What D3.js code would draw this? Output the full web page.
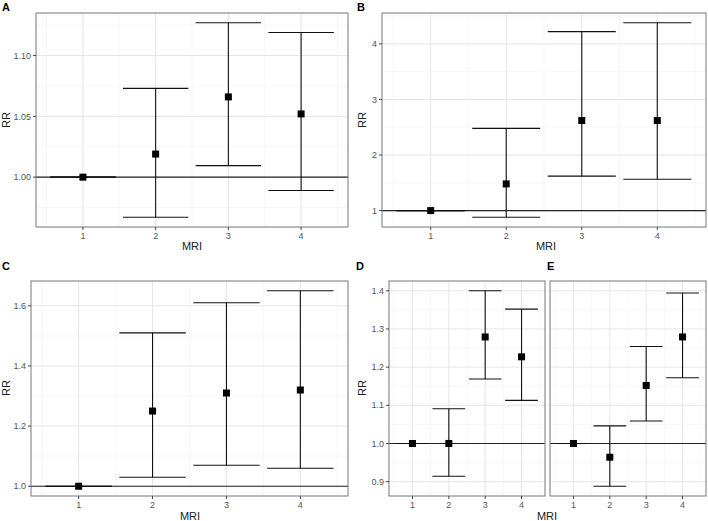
<!DOCTYPE html>
<meta charset="utf-8">
<head>
    <title>RR by MRI</title>
    <style>
        body { margin: 0; background: #fff; }
        text { font-family: "Liberation Sans", Arial, sans-serif; }
    </style>
</head>

<script src="https://d3js.org/d3.v7.min.js"></script>

<div id="dataVis"></div>

<script>

    // data
    var mri = [1, 2, 3, 4];

    var rrA = [1.000, 1.019, 1.066, 1.052];
    var loA = [1.000, 0.967, 1.0095, 0.989];
    var hiA = [1.000, 1.073, 1.127, 1.119];
    var ticksA = [1.00, 1.05, 1.10];

    var rrB = [1.00, 1.48, 2.62, 2.62];
    var loB = [1.00, 0.88, 1.62, 1.565];
    var hiB = [1.00, 2.48, 4.22, 4.38];
    var ticksB = [1, 2, 3, 4];

    var rrC = [1.00, 1.25, 1.31, 1.32];
    var loC = [1.00, 1.03, 1.07, 1.06];
    var hiC = [1.00, 1.51, 1.61, 1.65];
    var ticksC = [1.0, 1.2, 1.4, 1.6];

    var rrD = [1.000, 1.000, 1.279, 1.227];
    var loD = [1.000, 0.914, 1.169, 1.113];
    var hiD = [1.000, 1.091, 1.400, 1.352];

    var rrE = [1.000, 0.964, 1.152, 1.279];
    var loE = [1.000, 0.888, 1.059, 1.172];
    var hiE = [1.000, 1.046, 1.254, 1.394];
    var ticksDE = [0.9, 1.0, 1.1, 1.2, 1.3, 1.4];

    var barWidth = 0.9;

    var svg = d3.select("#dataVis")
        .append("svg")
        .attr("width", 708)
        .attr("height", 521);

    // ggplot-like 5% expansion
    function expand(lo, hi) {
        var pad = (hi - lo) * 0.05;
        return [lo - pad, hi + pad];
    }

    var xDomain = expand(d3.min(mri) - barWidth / 2, d3.max(mri) + barWidth / 2);

    function yDom(los, his) {
        var all = [].concat.apply([], los.concat(his));
        return expand(d3.min(all), d3.max(all));
    }

    function drawPanel(p) {
        var g = svg.append("g");
        var x = d3.scaleLinear().domain(xDomain).range([p.left, p.right]);
        var y = d3.scaleLinear().domain(p.yDomain).range([p.bottom, p.top]);

        var step = p.ticks[1] - p.ticks[0];
        var minorY = [];
        for (var i = -1; i < p.ticks.length; i++) {
            var v = p.ticks[0] + step * (i + 0.5);
            if (v > p.yDomain[0] && v < p.yDomain[1]) minorY.push(v);
        }
        var minorX = [];
        for (var k = 0; k <= mri.length; k++) {
            var vx = mri[0] - 0.5 + k;
            if (vx > xDomain[0] && vx < xDomain[1]) minorX.push(vx);
        }

        // grid
        g.selectAll(".minY").data(minorY).enter().append("line")
            .attr("x1", p.left).attr("x2", p.right)
            .attr("y1", function (d) { return y(d); }).attr("y2", function (d) { return y(d); })
            .attr("stroke", "#f1f1f1").attr("stroke-width", 0.6);
        g.selectAll(".minX").data(minorX).enter().append("line")
            .attr("y1", p.top).attr("y2", p.bottom)
            .attr("x1", function (d) { return x(d); }).attr("x2", function (d) { return x(d); })
            .attr("stroke", "#f1f1f1").attr("stroke-width", 0.6);
        g.selectAll(".majY").data(p.ticks).enter().append("line")
            .attr("x1", p.left).attr("x2", p.right)
            .attr("y1", function (d) { return y(d); }).attr("y2", function (d) { return y(d); })
            .attr("stroke", "#e6e6e6").attr("stroke-width", 1);
        g.selectAll(".majX").data(mri).enter().append("line")
            .attr("y1", p.top).attr("y2", p.bottom)
            .attr("x1", function (d) { return x(d); }).attr("x2", function (d) { return x(d); })
            .attr("stroke", "#e6e6e6").attr("stroke-width", 1);

        // reference line at RR = 1
        g.append("line")
            .attr("x1", p.left).attr("x2", p.right)
            .attr("y1", y(1)).attr("y2", y(1))
            .attr("stroke", "#222").attr("stroke-width", 1.1);

        var rows = mri.map(function (m, i) { return { m: m, rr: p.rr[i], lo: p.lo[i], hi: p.hi[i] }; });

        // error bars
        var eb = g.selectAll(".eb").data(rows).enter().append("g").attr("stroke", "#111").attr("stroke-width", 1.1);
        eb.append("line")
            .attr("x1", function (d) { return x(d.m); }).attr("x2", function (d) { return x(d.m); })
            .attr("y1", function (d) { return y(d.lo); }).attr("y2", function (d) { return y(d.hi); });
        eb.append("line")
            .attr("x1", function (d) { return x(d.m - barWidth / 2); }).attr("x2", function (d) { return x(d.m + barWidth / 2); })
            .attr("y1", function (d) { return y(d.hi); }).attr("y2", function (d) { return y(d.hi); });
        eb.append("line")
            .attr("x1", function (d) { return x(d.m - barWidth / 2); }).attr("x2", function (d) { return x(d.m + barWidth / 2); })
            .attr("y1", function (d) { return y(d.lo); }).attr("y2", function (d) { return y(d.lo); });

        // point estimates
        var s = 7;
        g.selectAll(".pt").data(rows).enter().append("rect")
            .attr("x", function (d) { return x(d.m) - s / 2; })
            .attr("y", function (d) { return y(d.rr) - s / 2; })
            .attr("width", s).attr("height", s)
            .attr("fill", "#000");

        // border
        g.append("rect")
            .attr("x", p.left).attr("y", p.top)
            .attr("width", p.right - p.left).attr("height", p.bottom - p.top)
            .attr("fill", "none").attr("stroke", "#777").attr("stroke-width", 1);

        // y axis
        if (p.yAxis) {
            g.selectAll(".yt").data(p.ticks).enter().append("line")
                .attr("x1", p.left - 3).attr("x2", p.left)
                .attr("y1", function (d) { return y(d); }).attr("y2", function (d) { return y(d); })
                .attr("stroke", "#444");
            g.selectAll(".yl").data(p.ticks).enter().append("text")
                .attr("x", p.left - 5)
                .attr("y", function (d) { return y(d); })
                .attr("dy", "0.35em")
                .attr("text-anchor", "end")
                .attr("fill", "#555")
                .style("font-size", "9px")
                .text(function (d) { return d3.format(p.fmt)(d); });
        }
        // x axis
        g.selectAll(".xt").data(mri).enter().append("line")
            .attr("y1", p.bottom).attr("y2", p.bottom + 3)
            .attr("x1", function (d) { return x(d); }).attr("x2", function (d) { return x(d); })
            .attr("stroke", "#444");
        g.selectAll(".xl").data(mri).enter().append("text")
            .attr("y", p.bottom + 12)
            .attr("x", function (d) { return x(d); })
            .attr("text-anchor", "middle")
            .attr("fill", "#555")
            .style("font-size", "9px")
            .text(function (d) { return d; });

        return g;
    }

    function label(txt, x, y) {
        svg.append("text").attr("x", x).attr("y", y)
            .style("font-size", "11px").style("font-weight", "bold")
            .text(txt);
    }
    function title(txt, x, y, rotate) {
        var t = svg.append("text")
            .attr("text-anchor", "middle")
            .style("font-size", "11px")
            .attr("fill", "#222")
            .text(txt);
        if (rotate) t.attr("transform", "translate(" + x + "," + y + ") rotate(-90)");
        else t.attr("x", x).attr("y", y);
    }

    var deDomain = yDom([loD, loE], [hiD, hiE]);

    drawPanel({ left: 36, top: 13, right: 348, bottom: 227, rr: rrA, lo: loA, hi: hiA,
        ticks: ticksA, fmt: ".2f", yDomain: yDom([loA], [hiA]), yAxis: true });
    drawPanel({ left: 382, top: 13, right: 706, bottom: 227, rr: rrB, lo: loB, hi: hiB,
        ticks: ticksB, fmt: "d", yDomain: yDom([loB], [hiB]), yAxis: true });
    drawPanel({ left: 31, top: 281, right: 348, bottom: 496, rr: rrC, lo: loC, hi: hiC,
        ticks: ticksC, fmt: ".1f", yDomain: yDom([loC], [hiC]), yAxis: true });
    drawPanel({ left: 389, top: 281, right: 545, bottom: 496, rr: rrD, lo: loD, hi: hiD,
        ticks: ticksDE, fmt: ".1f", yDomain: deDomain, yAxis: true });
    drawPanel({ left: 550, top: 281, right: 706, bottom: 496, rr: rrE, lo: loE, hi: hiE,
        ticks: ticksDE, fmt: ".1f", yDomain: deDomain, yAxis: false });

    label("A", 2, 11);
    label("B", 357, 11);
    label("C", 2, 270);
    label("D", 356, 270);
    label("E", 547, 270);

    title("MRI", 192, 250);
    title("MRI", 546, 250);
    title("MRI", 190, 520);
    title("MRI", 547, 520);
    title("RR", 10, 120, true);
    title("RR", 366, 120, true);
    title("RR", 10, 388, true);
    title("RR", 366, 388, true);

</script>
